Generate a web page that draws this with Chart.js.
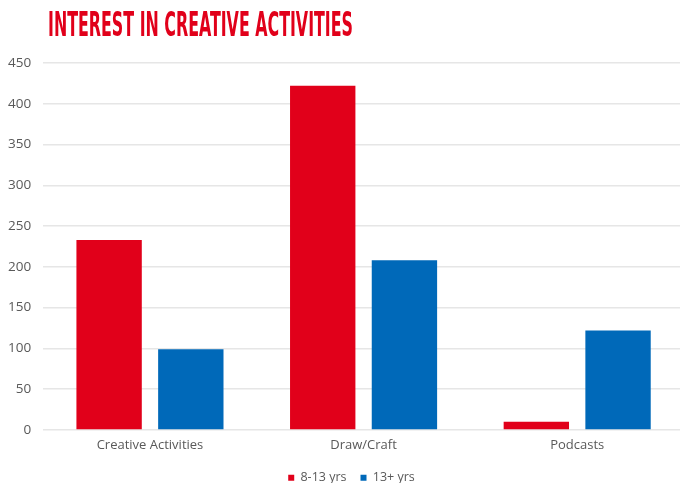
<!DOCTYPE html>
<html>
<head>
<meta charset="utf-8">
<script src="https://cdn.jsdelivr.net/npm/chart.js@4"></script>
<style>
  html, body { margin: 0; padding: 0; background: #fff; }
  #wrap { position: relative; width: 680px; height: 483px; overflow: hidden; }
  #title {
    position: absolute; left: 48px; top: 5px;
    font-family: "DejaVu Sans Condensed", "Liberation Sans Narrow", sans-serif;
    font-weight: bold; font-size: 33px; line-height: 40px; color: #e1001a;
    transform-origin: 0 0; white-space: nowrap;
  }
  #chart { position: absolute; left: -11px; top: 0; }
</style>
</head>
<body>
<div id="wrap">
  <canvas id="chart" width="695" height="483"></canvas>
  <div id="title">INTEREST IN CREATIVE ACTIVITIES</div>
</div>
<script>
// Survey: interest in creative activities by age group
const categories = ["Creative Activities", "Draw/Craft", "Podcasts"];
const kids = [233, 422, 10];     // 8-13 yrs
const teens = [99, 208, 122];    // 13+ yrs
const seriesNames = ["8-13 yrs", "13+ yrs"];
const yTicks = [0, 50, 100, 150, 200, 250, 300, 350, 400, 450];

const RED = "#e1001a";
const BLUE = "#0069b9";
const GREY = "#595959";

// squeeze the heading into a condensed display width
const title = document.getElementById("title");
title.style.transform = "scaleX(" + (305 / title.offsetWidth) + ")";

// centre the legend a little right of the canvas middle, under the plot
const legendNudge = {
  id: "legendNudge",
  afterLayout(chart) {
    if (chart.legend) {
      chart.legend.left += 11.5;
      chart.legend.right += 11.5;
    }
  }
};

new Chart(document.getElementById("chart"), {
  type: "bar",
  data: {
    labels: categories,
    datasets: [
      { label: seriesNames[0], data: kids, backgroundColor: RED },
      { label: seriesNames[1], data: teens, backgroundColor: BLUE }
    ]
  },
  plugins: [legendNudge],
  options: {
    responsive: false,
    animation: false,
    devicePixelRatio: 1,
    categoryPercentage: 0.765,
    barPercentage: 0.8,
    layout: { padding: { top: 63, left: 7, right: 0, bottom: -11 } },
    plugins: {
      title: { display: false },
      tooltip: { enabled: false },
      legend: {
        position: "bottom",
        labels: {
          boxWidth: 6, boxHeight: 6, padding: 14,
          color: GREY,
          font: { family: "Open Sans", size: 12.5 }
        }
      }
    },
    scales: {
      x: {
        grid: { display: false, drawTicks: false },
        border: { display: false },
        ticks: { color: GREY, font: { family: "Open Sans", size: 13 }, padding: 8, maxRotation: 0 },
        afterFit: (axis) => { axis.height -= 4; }
      },
      y: {
        min: 0, max: 450,
        afterBuildTicks: (axis) => { axis.ticks = yTicks.map(v => ({ value: v })); },
        grid: { color: "#e6e6e6", lineWidth: 1.5, drawTicks: false },
        border: { display: false },
        ticks: { color: GREY, font: { family: "Open Sans", size: 13.5 }, padding: 12 }
      }
    }
  }
});
</script>
</body>
</html>
